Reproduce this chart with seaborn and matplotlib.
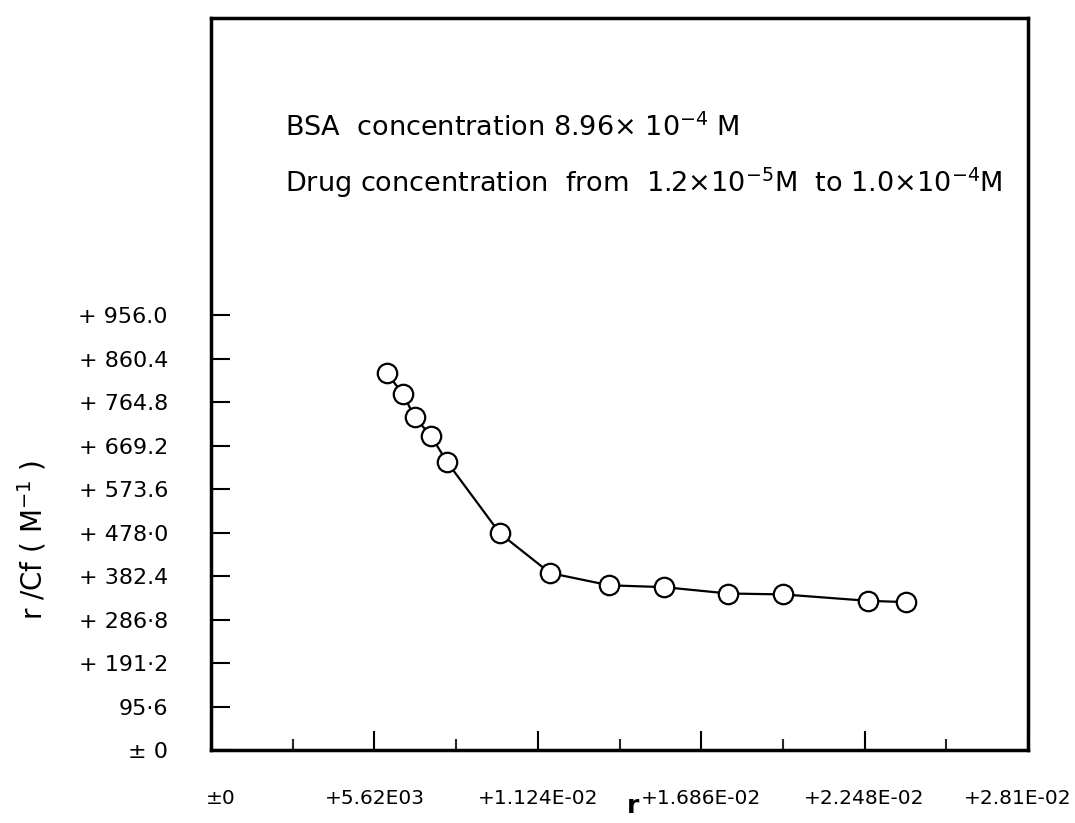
import numpy as np
import pandas as pd
import matplotlib
matplotlib.use("Agg")
import matplotlib.pyplot as plt
import matplotlib.transforms as mtransforms
from matplotlib.ticker import FixedLocator
import seaborn as sns

# ---- data ----
r_values = [0.00605, 0.00660, 0.00700, 0.00757, 0.00811, 0.00994, 0.01166,
            0.01370, 0.01558, 0.01779, 0.01968, 0.02258, 0.02392]
r_cf_values = [828, 783, 732, 690, 634, 476, 389, 362, 358, 344, 342, 328, 325]

y_tick_values = [0, 95.6, 191.2, 286.8, 382.4, 478.0, 573.6, 669.2, 764.8, 860.4, 956.0]
y_tick_labels = ["± 0", "95·6", "+ 191·2", "+ 286·8", "+ 382.4", "+ 478·0",
                 "+ 573.6", "+ 669.2", "+ 764.8", "+ 860.4", "+ 956.0"]
x_tick_values = [0, 0.00562, 0.01124, 0.01686, 0.02248, 0.0281]
x_tick_labels = ["±0", "+5.62E03", "+1.124E-02", "+1.686E-02", "+2.248E-02", "+2.81E-02"]
x_minor_values = [0.00281, 0.00843, 0.01405, 0.01967, 0.02529]

df = pd.DataFrame({"r": r_values, "r_cf": r_cf_values})

sns.set_theme(style="white")
plt.rcParams["font.family"] = ["DejaVu Sans"]
plt.rcParams["text.color"] = "black"

W, H = 1075, 823
fig = plt.figure(figsize=(W / 100, H / 100), dpi=100)
left, right, bottom, top = 211, 1028, 750, 18
ax = fig.add_axes([left / W, 1 - bottom / H, (right - left) / W, (bottom - top) / H])

sns.lineplot(data=df, x="r", y="r_cf", ax=ax, color="black", linewidth=1.6,
             marker="o", markersize=14, markerfacecolor="white",
             markeredgecolor="black", markeredgewidth=1.6, sort=False)

ax.set_xlim(0, 0.0281)
ax.set_ylim(0, 1609)

ax.yaxis.set_major_locator(FixedLocator(y_tick_values))
ax.set_yticklabels(y_tick_labels)
ax.xaxis.set_major_locator(FixedLocator(x_tick_values))
ax.set_xticklabels(x_tick_labels)
ax.xaxis.set_minor_locator(FixedLocator(x_minor_values))

ax.tick_params(axis="y", which="major", direction="in", length=14, width=1.5,
               pad=31, labelsize=16, left=True, colors="black")
ax.tick_params(axis="x", which="major", direction="in", length=14, width=1.5,
               pad=28, labelsize=14.5, bottom=True, colors="black")
ax.tick_params(axis="x", which="minor", direction="in", length=8, width=1.5,
               bottom=True)

for s in ax.spines.values():
    s.set_linewidth(2.5)
    s.set_color("black")

ax.set_xlabel("")
ax.set_ylabel("")

# nudge first / last x tick labels like the reference
xlabels = ax.get_xticklabels()
xlabels[0].set_transform(xlabels[0].get_transform() +
                         mtransforms.ScaledTranslation(0.10, 0, fig.dpi_scale_trans))
xlabels[-1].set_horizontalalignment("right")
xlabels[-1].set_transform(xlabels[-1].get_transform() +
                          mtransforms.ScaledTranslation(0.44, 0, fig.dpi_scale_trans))

fig.text(633 / W, 1 - 806 / H, "r", fontsize=18, fontweight="bold",
         ha="center", va="center", color="black")
fig.text(32 / W, 1 - 540 / H, r"r /Cf ( M$^{-1}$ )", fontsize=20,
         rotation=90, ha="center", va="center", color="black")

fig.text(285 / W, 1 - 128 / H, r"BSA  concentration 8.96× 10$^{-4}$ M",
         fontsize=19.5, ha="left", va="center", color="black")
fig.text(285 / W, 1 - 183 / H,
         r"Drug concentration  from  1.2×10$^{-5}$M  to 1.0×10$^{-4}$M",
         fontsize=19.5, ha="left", va="center", color="black")

fig.savefig("out.png", dpi=100)
